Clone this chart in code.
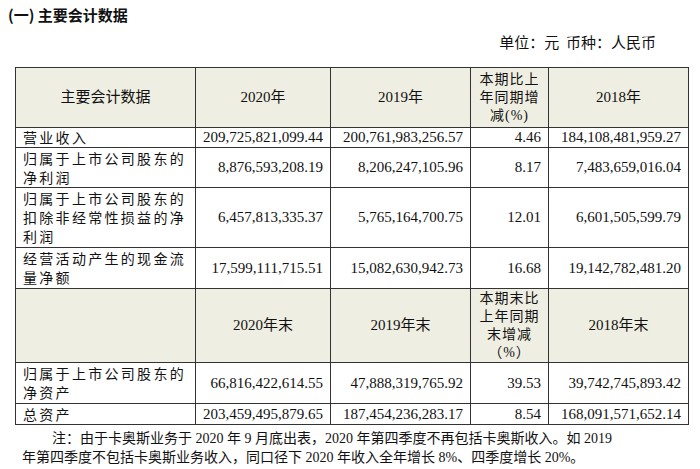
<!DOCTYPE html><html><head><meta charset="utf-8">
<script src="https://cdn.jsdelivr.net/npm/chart.js@4"></script>
<style>
body{margin:0;width:700px;height:469px;background:#fff;font-family:"Liberation Serif","Noto Sans CJK SC",serif;color:#111;position:relative;overflow:hidden}
.t{position:absolute;left:8px;top:4px;font-size:15px;font-weight:bold;font-family:"Noto Sans CJK SC"}
.u{position:absolute;right:44px;top:31px;font-size:15px;font-family:"Noto Sans CJK SC"}
table{position:absolute;left:15px;top:67px;border-collapse:collapse;font-size:15px;table-layout:fixed}
td{border:1px solid #333;padding:0 7px;line-height:19px;overflow:hidden}
.h td{background:#efeee2;text-align:center}
td.n{text-align:right}
td.l{font-family:"Noto Sans CJK SC";font-size:14px;letter-spacing:2.3px;line-height:19px}
.h td.s{font-family:"Liberation Serif","Noto Sans CJK SC";font-size:14px;letter-spacing:1px;padding:0 2px;line-height:18px}
.note{position:absolute;left:22px;top:429px;width:655px;font-size:14px;line-height:19px;font-family:"Liberation Serif","Noto Sans CJK SC";text-indent:30px}
</style></head><body>
<div class="t">(一) 主要会计数据</div>
<div class="u">单位：元&nbsp;&nbsp;币种：人民币</div>
<table id="tb"></table>
<div class="note">注：由于卡奥斯业务于 2020 年 9 月底出表，2020 年第四季度不再包括卡奥斯收入。如 2019<br>年第四季度不包括卡奥斯业务收入，同口径下 2020 年收入全年增长 8%、四季度增长 20%。</div>
<script>
const header1=["主要会计数据","2020年","2019年","本期比上年同期增减(%)","2018年"];
const header2=["","2020年末","2019年末","本期末比上年同期末增减（%）","2018年末"];
const items1=["营业收入","归属于上市公司股东的净利润","归属于上市公司股东的扣除非经常性损益的净利润","经营活动产生的现金流量净额"];
const items2=["归属于上市公司股东的净资产","总资产"];
const v2020=["209,725,821,099.44","8,876,593,208.19","6,457,813,335.37","17,599,111,715.51"];
const v2019=["200,761,983,256.57","8,206,247,105.96","5,765,164,700.75","15,082,630,942.73"];
const chg=["4.46","8.17","12.01","16.68"];
const v2018=["184,108,481,959.27","7,483,659,016.04","6,601,505,599.79","19,142,782,481.20"];
const e2020=["66,816,422,614.55","203,459,495,879.65"];
const e2019=["47,888,319,765.92","187,454,236,283.17"];
const chg2=["39.53","8.54"];
const e2018=["39,742,745,893.42","168,091,571,652.14"];
const widths=[180,135,140,78,140];
const heights1=[20,40,60,41], heights2=[41,21];
const tb=document.getElementById('tb');
const cg=document.createElement('colgroup');widths.forEach(w=>{const c=document.createElement('col');c.style.width=w+'px';cg.appendChild(c)});tb.appendChild(cg);
function hdr(h,ht){const tr=tb.insertRow();tr.className='h';tr.style.height=ht+'px';h.forEach((x,i)=>{const c=tr.insertCell();c.textContent=x;if(i==3)c.className='s';});}
function row(cells,ht){const tr=tb.insertRow();tr.style.height=ht+'px';cells.forEach((x,i)=>{const c=tr.insertCell();c.textContent=x;c.className=i?'n':'l';});}
hdr(header1,60);
items1.forEach((k,i)=>row([k,v2020[i],v2019[i],chg[i],v2018[i]],heights1[i]));
hdr(header2,74);
items2.forEach((k,i)=>row([k,e2020[i],e2019[i],chg2[i],e2018[i]],heights2[i]));
</script></body></html>
